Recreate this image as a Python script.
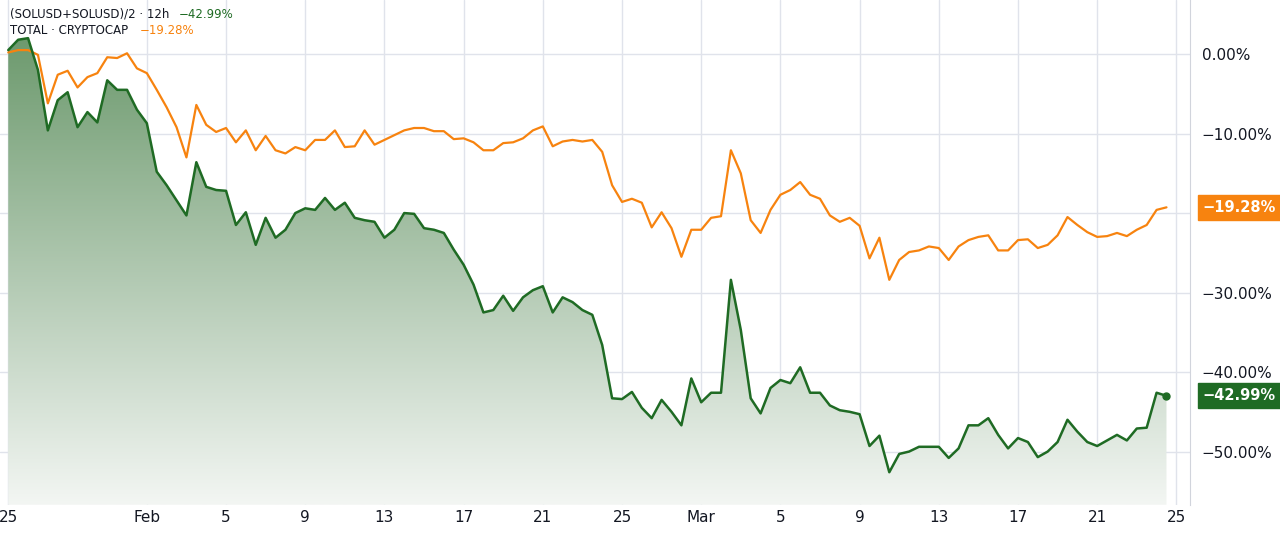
import numpy as np, pandas as pd, matplotlib
matplotlib.use("Agg")
import matplotlib.pyplot as plt, matplotlib.dates as mdates, seaborn as sns
from matplotlib.colors import LinearSegmentedColormap

sol = [0.5,1.8,2,-2,-9.6,-5.8,-4.8,-9.2,-7.3,-8.6,-3.3,-4.5,-4.5,-7,-8.7,-14.8,-16.5,-18.4,-20.3,-13.6,
 -16.7,-17.1,-17.2,-21.5,-19.9,-24,-20.6,-23.1,-22.1,-20,-19.4,-19.6,-18.1,-19.6,-18.7,-20.6,-20.9,-21.1,-23.1,-22.1,
 -20,-20.1,-21.9,-22.1,-22.5,-24.6,-26.5,-29,-32.5,-32.2,-30.4,-32.3,-30.6,-29.7,-29.2,-32.5,-30.6,-31.2,-32.2,-32.8,
 -36.6,-43.3,-43.4,-42.5,-44.5,-45.8,-43.5,-45,-46.7,-40.8,-43.8,-42.6,-42.6,-28.4,-34.7,-43.3,-45.2,-42,-41,-41.4,
 -39.4,-42.6,-42.6,-44.2,-44.8,-45,-45.3,-49.3,-48,-52.6,-50.3,-50,-49.4,-49.4,-49.4,-50.8,-49.6,-46.7,-46.7,-45.8,
 -47.9,-49.6,-48.3,-48.8,-50.7,-50,-48.8,-46,-47.5,-48.8,-49.3,-48.6,-47.9,-48.6,-47.1,-47,-42.6,-42.99]
total = [0.2,0.5,0.5,-0.1,-6.2,-2.6,-2.1,-4.2,-2.9,-2.4,-0.4,-0.5,0.1,-1.8,-2.4,-4.5,-6.7,-9.2,-13,-6.4,
 -8.9,-9.8,-9.3,-11.1,-9.6,-12.1,-10.3,-12.1,-12.5,-11.7,-12.1,-10.8,-10.8,-9.6,-11.7,-11.6,-9.6,-11.4,-10.8,-10.2,
 -9.6,-9.3,-9.3,-9.7,-9.7,-10.7,-10.6,-11.1,-12.1,-12.1,-11.2,-11.1,-10.6,-9.6,-9.1,-11.6,-11,-10.8,-11,-10.8,
 -12.3,-16.5,-18.6,-18.2,-18.7,-21.8,-19.9,-21.9,-25.5,-22.1,-22.1,-20.6,-20.4,-12.1,-15,-20.9,-22.5,-19.6,-17.7,-17.1,
 -16.1,-17.7,-18.2,-20.3,-21.1,-20.6,-21.6,-25.7,-23.1,-28.4,-25.9,-24.9,-24.7,-24.2,-24.4,-25.9,-24.2,-23.4,-23,-22.8,
 -24.7,-24.7,-23.4,-23.3,-24.4,-24,-22.8,-20.5,-21.5,-22.4,-23,-22.9,-22.5,-22.9,-22.1,-21.5,-19.6,-19.28]
dates = pd.date_range("2025-01-25", periods=len(sol), freq="12h")
tick_dates = pd.to_datetime(["2025-01-25","2025-02-01","2025-02-05","2025-02-09","2025-02-13","2025-02-17","2025-02-21",
    "2025-02-25","2025-03-01","2025-03-05","2025-03-09","2025-03-13","2025-03-17","2025-03-21","2025-03-25"])
tick_labels = ["25","Feb","5","9","13","17","21","25","Mar","5","9","13","17","21","25"]
yticks = [0,-10,-20,-30,-40,-50]
GREEN, ORANGE = "#1f6b24", "#f7830f"

sns.set_style("white")
fig = plt.figure(figsize=(12.8,5.44), dpi=100)
ax = fig.add_axes([0, 0.072, 0.93, 0.928])
df = pd.DataFrame({"date":dates,"sol":sol,"total":total})
x0 = mdates.date2num(pd.Timestamp("2025-01-25")-pd.Timedelta(hours=10))
x1 = mdates.date2num(pd.Timestamp("2025-03-25")+pd.Timedelta(hours=17))
ymin, ymax = -56.7, 6.8
xn = mdates.date2num(dates)
poly = ax.fill_between(xn, sol, ymin, color="none")
cmap = LinearSegmentedColormap.from_list("g", ["#f3f6f3", "#6d9a6e"])
grad = np.linspace(0,1,256).reshape(-1,1)
im = ax.imshow(grad, extent=[xn[0], xn[-1], ymin, max(sol)], origin="lower", aspect="auto", cmap=cmap, zorder=1)
im.set_clip_path(poly.get_paths()[0], transform=ax.transData)
sns.lineplot(data=df, x="date", y="total", ax=ax, color=ORANGE, lw=1.6, zorder=3)
sns.lineplot(data=df, x="date", y="sol", ax=ax, color=GREEN, lw=1.8, zorder=4)
ax.plot(xn[-1], sol[-1], "o", color=GREEN, ms=5, zorder=5)
ax.set_xlim(x0, x1); ax.set_ylim(ymin, ymax)
ax.set_xticks(mdates.date2num(tick_dates)); ax.set_xticklabels(tick_labels)
ax.set_yticks(yticks)
ax.set_yticklabels(["" if v == -20 else f"{v:.2f}%".replace("-", "\u2212") for v in yticks])
ax.yaxis.tick_right()
ax.tick_params(axis="both", length=0, labelsize=11, colors="#131722")
ax.tick_params(axis="y", pad=8)
ax.grid(True, color="#e0e3eb", lw=1)
ax.set_xlabel(""); ax.set_ylabel("")
for s in ["top","left","bottom"]: ax.spines[s].set_visible(False)
ax.spines["right"].set_color("#d1d4dc")
for v, c in [(total[-1], ORANGE), (sol[-1], GREEN)]:
    ax.annotate(f"\u2212{abs(v):.2f}%", xy=(1, v), xycoords=("axes fraction","data"), xytext=(9,0),
                textcoords="offset points", va="center", ha="left", color="white", fontsize=10.5, fontweight="bold",
                bbox=dict(boxstyle="square,pad=0.35", fc=c, ec=c))
ax.text(0.008, 0.985, "(SOLUSD+SOLUSD)/2 \u00b7 12h", transform=ax.transAxes, fontsize=8.5, va="top", color="#131722")
ax.text(0.150, 0.985, "\u221242.99%", transform=ax.transAxes, fontsize=8.5, va="top", color=GREEN)
ax.text(0.008, 0.952, "TOTAL \u00b7 CRYPTOCAP", transform=ax.transAxes, fontsize=8.5, va="top", color="#131722")
ax.text(0.117, 0.952, "\u221219.28%", transform=ax.transAxes, fontsize=8.5, va="top", color=ORANGE)
fig.savefig("out.png", dpi=100)
